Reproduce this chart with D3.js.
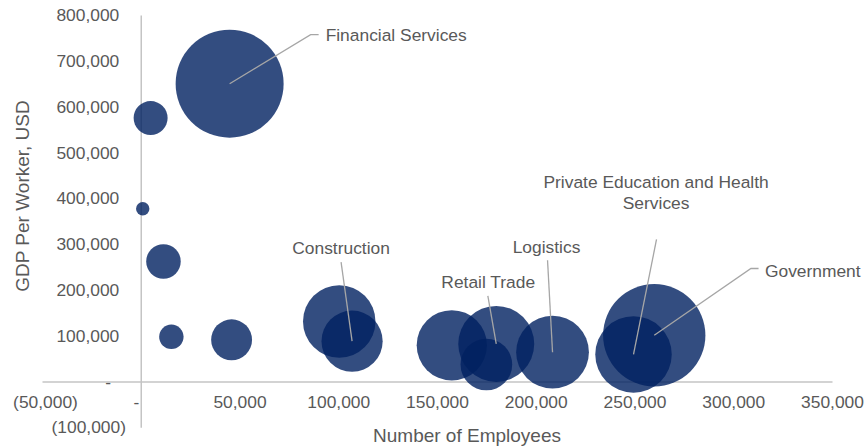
<!DOCTYPE html>
<html>
<head>
<meta charset="utf-8">
<script src="https://cdn.jsdelivr.net/npm/d3@7"></script>
<style>
    body { margin: 0; background: #fff; }
    text { font-family: "Liberation Sans", Arial, sans-serif; fill: #595959; }
    .axis path, .axis line { stroke: #c4c4c4; stroke-width: 1.5; }
</style>
</head>
<body>
<div id="chart"></div>
<script>
"use strict";

// number of employees per sector
var employees = [45000, 5000, 1000, 11500, 15500, 46000, 100500, 107000, 157500, 180000, 175000, 208500, 249500, 260000];
// GDP per worker, USD
var gdpPerWorker = [650000, 575000, 377000, 262000, 97500, 91000, 131000, 88000, 79000, 82000, 37000, 64000, 59000, 101000];
// bubble size = sector GDP, USD billions
var sectorGdp = [29.3, 2.9, 0.45, 3.0, 1.5, 4.2, 13.2, 9.4, 12.4, 14.5, 6.7, 13.3, 14.7, 26.3];
// labels (index into the arrays above), only some bubbles are labelled
var labelNames = ["Financial Services", "Construction", "Retail Trade", "Logistics", "Private Education and Health|Services", "Government"];
var labelIndex = [0, 7, 9, 11, 12, 13];

var xTicks = [-50000, 0, 50000, 100000, 150000, 200000, 250000, 300000, 350000];
var yTicks = [-100000, 0, 100000, 200000, 300000, 400000, 500000, 600000, 700000, 800000];

var width = 865,
    height = 446;

var svg = d3.select("#chart").append("svg")
    .attr("width", width)
    .attr("height", height);

var x = d3.scaleLinear().domain([-50000, 350000]).range([42, 832]);
var y = d3.scaleLinear().domain([-100000, 800000]).range([427.3, 15]);
var r = d3.scaleSqrt().domain([0, 29.3]).range([0, 54]);

// excel "accounting" style numbers: (50,000) for negatives, - for zero
var fmt = d3.format(",");
function accounting(v) {
    if (v == 0) return "-";
    if (v < 0) return "(" + fmt(-v) + ")";
    return fmt(v);
}

//=========================== axes (crossing at 0, labels sit low/left)
var xAxis = svg.append("g")
    .attr("class", "axis")
    .attr("transform", "translate(0," + y(0) + ")")
    .call(d3.axisBottom(x).tickValues(xTicks).tickFormat(accounting)
        .tickSize(0).tickSizeOuter(0).tickPadding(14.6));

xAxis.selectAll("text")
    .style("font-size", "17.4px")
    .attr("dx", function(d) {
        if (d == 0) return -4.8;
        if (d < 0) return 3;
        return 0;
    });

var yAxis = svg.append("g")
    .attr("class", "axis")
    .attr("transform", "translate(" + x(0) + ",0)")
    .call(d3.axisLeft(y).tickValues(yTicks).tickFormat(accounting)
        .tickSize(0).tickSizeOuter(0).tickPadding(21.5));

yAxis.selectAll("text")
    .style("font-size", "17.4px")
    .attr("dx", function(d) {
        if (d == 0) return -8.2;
        if (d < 0) return 6.7;
        return 0;
    });

// axis titles
svg.append("text")
    .attr("transform", "translate(28.5,196) rotate(-90)")
    .attr("text-anchor", "middle")
    .style("font-size", "19px")
    .text("GDP Per Worker, USD");

svg.append("text")
    .attr("x", 467)
    .attr("y", 442.3)
    .attr("text-anchor", "middle")
    .style("font-size", "19px")
    .text("Number of Employees");

//=========================== bubbles
var bubbles = d3.range(employees.length).map(function(i) {
    return { x: employees[i], y: gdpPerWorker[i], size: sectorGdp[i] };
});

svg.append("g")
    .selectAll("circle")
    .data(bubbles)
    .enter().append("circle")
    .attr("cx", function(d) { return x(d.x); })
    .attr("cy", function(d) { return y(d.y); })
    .attr("r", function(d) { return r(d.size); })
    .attr("fill", "#002060")
    .attr("fill-opacity", 0.8);

//=========================== data labels with leader lines
// offsets (px) from the bubble centre: leader path points, then text anchor point
var labelLayout = [
    { pts: [[81, -49], [89, -49]], tx: 96, ty: -43, anchor: "start" },
    { pts: [[-11, -79]], tx: -11, ty: -87, anchor: "middle" },
    { pts: [[-8.4, -48]], tx: -8, ty: -56, anchor: "middle" },
    { pts: [[-5, -92]], tx: -6, ty: -98.7, anchor: "middle" },
    { pts: [[23, -115]], tx: 22.6, ty: -166, anchor: "middle" },
    { pts: [[96.7, -66.7], [104.3, -66.7]], tx: 110.7, ty: -58.5, anchor: "start" }
];

var labels = svg.append("g");

labelIndex.forEach(function(idx, k) {
    var b = bubbles[idx],
        cx = x(b.x),
        cy = y(b.y),
        lay = labelLayout[k];

    var pts = [[cx, cy]].concat(lay.pts.map(function(p) { return [cx + p[0], cy + p[1]]; }));
    labels.append("path")
        .attr("d", d3.line()(pts))
        .attr("fill", "none")
        .attr("stroke", "#a6a6a6")
        .attr("stroke-width", 1.3);

    var t = labels.append("text")
        .attr("x", cx + lay.tx)
        .attr("y", cy + lay.ty)
        .attr("text-anchor", lay.anchor)
        .style("font-size", "17.4px");

    labelNames[k].split("|").forEach(function(line, j) {
        t.append("tspan")
            .attr("x", cx + lay.tx)
            .attr("dy", j == 0 ? 0 : 21)
            .text(line);
    });
});
</script>
</body>
</html>
